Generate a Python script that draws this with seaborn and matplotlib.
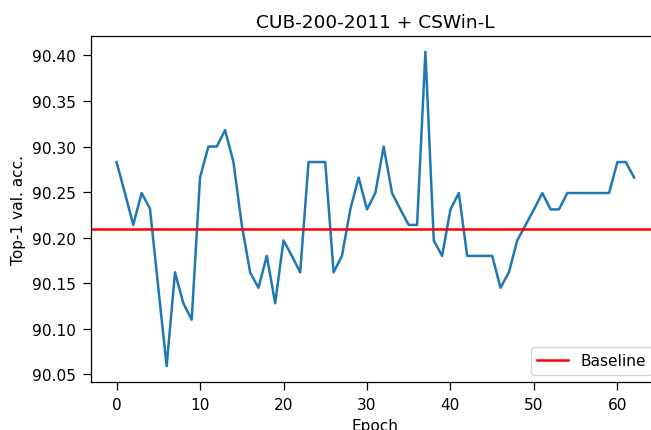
import matplotlib
matplotlib.use("Agg")
import matplotlib.pyplot as plt
import seaborn as sns
import pandas as pd

epochs = list(range(63))
top1_acc = [
    90.283, 90.249, 90.214, 90.249, 90.232, 90.145, 90.059, 90.162, 90.128, 90.110,  # 0-9
    90.266, 90.300, 90.300, 90.318, 90.283, 90.214, 90.162, 90.145, 90.180, 90.128,  # 10-19
    90.197, 90.180, 90.162, 90.283, 90.283, 90.283, 90.162, 90.180, 90.231, 90.266,  # 20-29
    90.231, 90.249, 90.300, 90.249, 90.231, 90.214, 90.214, 90.404, 90.197, 90.180,  # 30-39
    90.231, 90.249, 90.180, 90.180, 90.180, 90.180, 90.145, 90.162, 90.197, 90.214,  # 40-49
    90.231, 90.249, 90.231, 90.231, 90.249, 90.249, 90.249, 90.249, 90.249, 90.249,  # 50-59
    90.283, 90.283, 90.266,                                                          # 60-62
]
baseline = 90.21

title = "CUB-200-2011 + CSWin-L"
xlabel = "Epoch"
ylabel = "Top-1 val. acc."
legend_label = "Baseline"
yticks = [90.05, 90.10, 90.15, 90.20, 90.25, 90.30, 90.35, 90.40]
xticks = [0, 10, 20, 30, 40, 50, 60]

df = pd.DataFrame({"epoch": epochs, "acc": top1_acc})

fs = 11.1
plt.rcParams["font.family"] = ["DejaVu Sans"]
plt.rcParams["font.size"] = fs

fig = plt.figure(figsize=(6.51, 4.31), dpi=100)
ax = fig.add_axes([0.1393, 0.1107, 0.8745, 0.803])

sns.lineplot(data=df, x="epoch", y="acc", ax=ax, color="#1f77b4", linewidth=1.8)
ax.axhline(baseline, color="red", linewidth=1.8, label=legend_label)

ax.set_xlim(-3.1, 65.1)
ax.set_ylim(90.0413, 90.4211)
ax.set_xticks(xticks)
ax.set_yticks(yticks)
ax.set_yticklabels([f"{v:.2f}" for v in yticks])
ax.tick_params(labelsize=fs, length=5.5, width=0.9, pad=5.3)
for s in ax.spines.values():
    s.set_linewidth(0.9)

ax.set_title(title, fontsize=13.3, pad=6.8)
ax.set_xlabel(xlabel, fontsize=fs, labelpad=3.8)
ax.set_ylabel(ylabel, fontsize=fs, labelpad=4.4)
ax.legend(loc="lower right", fontsize=fs)

fig.savefig("out.png", dpi=100)
